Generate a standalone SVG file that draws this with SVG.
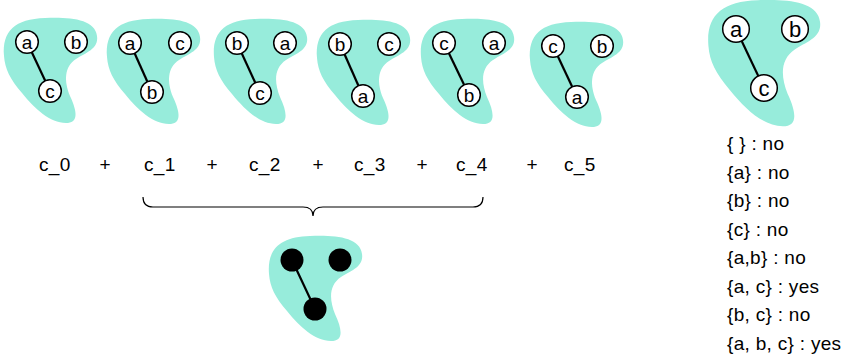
<svg xmlns="http://www.w3.org/2000/svg" xmlns:xlink="http://www.w3.org/1999/xlink" width="846" height="358" viewBox="0 0 846 358">
<style>
.blob{fill:#97ecdb;stroke:none}
.n{fill:#fff;stroke:#000;stroke-width:1.5}
.nb{fill:#000;stroke:none}
.e{stroke:#000;stroke-width:2.2;fill:none}
.lbl{font-family:"Liberation Sans",Arial,sans-serif;font-size:19px;text-anchor:middle;fill:#000}
.t{font-family:"Liberation Sans",Arial,sans-serif;font-size:19px;fill:#000;letter-spacing:0.3px}
.tm{font-family:"Liberation Sans",Arial,sans-serif;font-size:19px;fill:#000;text-anchor:middle}
</style>
<defs>
<path id="blob" d="M -23,14 C -25,-11 -12,-23 18,-24 C 43,-25 68,-23 70,-6 C 72,7 58,11 49,17 C 37,25 37,39 43,54 C 51,71 51,81 39,81 C 23,81 8,67 -5,51 C -17,37 -22,27 -23,14 Z"/>
</defs>

<g id="blobs">
<use id="blob1" xlink:href="#blob" class="blob" transform="translate(27,42)"/>
<use id="blob2" xlink:href="#blob" class="blob" transform="translate(130,43)"/>
<use id="blob3" xlink:href="#blob" class="blob" transform="translate(237,43)"/>
<use id="blob4" xlink:href="#blob" class="blob" transform="translate(340,44)"/>
<use id="blob5" xlink:href="#blob" class="blob" transform="translate(444,43)"/>
<use id="blob6" xlink:href="#blob" class="blob" transform="translate(553,46)"/>
<use id="blob7" xlink:href="#blob" class="blob" transform="translate(736,29) scale(1.2)"/>
<use id="blob8" xlink:href="#blob" class="blob" transform="translate(292,260)"/>
</g>

<g id="connectors">
<line class="e" x1="27" y1="42" x2="50" y2="91"/>
<line class="e" x1="130" y1="43" x2="152" y2="92"/>
<line class="e" x1="237" y1="43" x2="260" y2="93"/>
<line class="e" x1="340" y1="44" x2="363" y2="96"/>
<line class="e" x1="444" y1="43" x2="469" y2="95"/>
<line class="e" x1="553" y1="46" x2="577" y2="97"/>
<line class="e" x1="736" y1="29" x2="764" y2="88"/>
<line class="e" x1="292" y1="260" x2="315" y2="309"/>
<path class="e" style="stroke-width:1.2" d="M143,197 Q143,207 153,207 L303,207 Q313,207 313,216 Q313,207 323,207 L473,207 Q483,207 483,197"/>
</g>

<g id="n1a"><circle class="n" cx="27" cy="42" r="11.3"/><text class="lbl" x="27" y="48.5">a</text></g>
<g id="n1b"><circle class="n" cx="76" cy="42" r="11.3"/><text class="lbl" x="76" y="48.5">b</text></g>
<g id="n1c"><circle class="n" cx="50" cy="91" r="11.3"/><text class="lbl" x="50" y="97.5">c</text></g>

<g id="n2a"><circle class="n" cx="130" cy="43" r="11.3"/><text class="lbl" x="130" y="49.5">a</text></g>
<g id="n2c"><circle class="n" cx="180" cy="43" r="11.3"/><text class="lbl" x="180" y="49.5">c</text></g>
<g id="n2b"><circle class="n" cx="152" cy="92" r="11.3"/><text class="lbl" x="152" y="98.5">b</text></g>

<g id="n3b"><circle class="n" cx="237" cy="43" r="11.3"/><text class="lbl" x="237" y="49.5">b</text></g>
<g id="n3a"><circle class="n" cx="285" cy="43" r="11.3"/><text class="lbl" x="285" y="49.5">a</text></g>
<g id="n3c"><circle class="n" cx="260" cy="93" r="11.3"/><text class="lbl" x="260" y="99.5">c</text></g>

<g id="n4b"><circle class="n" cx="340" cy="44" r="11.3"/><text class="lbl" x="340" y="50.5">b</text></g>
<g id="n4c"><circle class="n" cx="389" cy="44" r="11.3"/><text class="lbl" x="389" y="50.5">c</text></g>
<g id="n4a"><circle class="n" cx="363" cy="96" r="11.3"/><text class="lbl" x="363" y="102.5">a</text></g>

<g id="n5c"><circle class="n" cx="444" cy="43" r="11.3"/><text class="lbl" x="444" y="49.5">c</text></g>
<g id="n5a"><circle class="n" cx="494" cy="43" r="11.3"/><text class="lbl" x="494" y="49.5">a</text></g>
<g id="n5b"><circle class="n" cx="469" cy="95" r="11.3"/><text class="lbl" x="469" y="101.5">b</text></g>

<g id="n6c"><circle class="n" cx="553" cy="46" r="11.3"/><text class="lbl" x="553" y="52.5">c</text></g>
<g id="n6b"><circle class="n" cx="602" cy="46" r="11.3"/><text class="lbl" x="602" y="52.5">b</text></g>
<g id="n6a"><circle class="n" cx="577" cy="97" r="11.3"/><text class="lbl" x="577" y="103.5">a</text></g>

<g id="n7a"><circle class="n" cx="736" cy="29" r="13.3"/><text class="lbl" x="736" y="36.5" style="font-size:22px">a</text></g>
<g id="n7b"><circle class="n" cx="795" cy="29" r="13.3"/><text class="lbl" x="795" y="36.5" style="font-size:22px">b</text></g>
<g id="n7c"><circle class="n" cx="764" cy="88" r="13.3"/><text class="lbl" x="764" y="95.5" style="font-size:22px">c</text></g>

<g id="n8a"><circle class="nb" cx="292" cy="260" r="11.5"/></g>
<g id="n8b"><circle class="nb" cx="340" cy="260" r="11.5"/></g>
<g id="n8c"><circle class="nb" cx="315" cy="309" r="11.5"/></g>

<g id="sum">
<text class="t" x="39" y="171">c_0</text>
<text class="tm" x="105" y="171">+</text>
<text class="t" x="144" y="171">c_1</text>
<text class="tm" x="212" y="171">+</text>
<text class="t" x="249" y="171">c_2</text>
<text class="tm" x="318" y="171">+</text>
<text class="t" x="354" y="171">c_3</text>
<text class="tm" x="422" y="171">+</text>
<text class="t" x="456" y="171">c_4</text>
<text class="tm" x="532" y="171">+</text>
<text class="t" x="564" y="171">c_5</text>
</g>

<g id="list">
<text class="t" x="727" y="150">{ } : no</text>
<text class="t" x="727" y="178.5">{a} : no</text>
<text class="t" x="727" y="207">{b} : no</text>
<text class="t" x="727" y="235.5">{c} : no</text>
<text class="t" x="727" y="264">{a,b} : no</text>
<text class="t" x="727" y="292.5">{a, c} : yes</text>
<text class="t" x="727" y="321">{b, c} : no</text>
<text class="t" x="727" y="349.5">{a, b, c} : yes</text>
</g>
</svg>
